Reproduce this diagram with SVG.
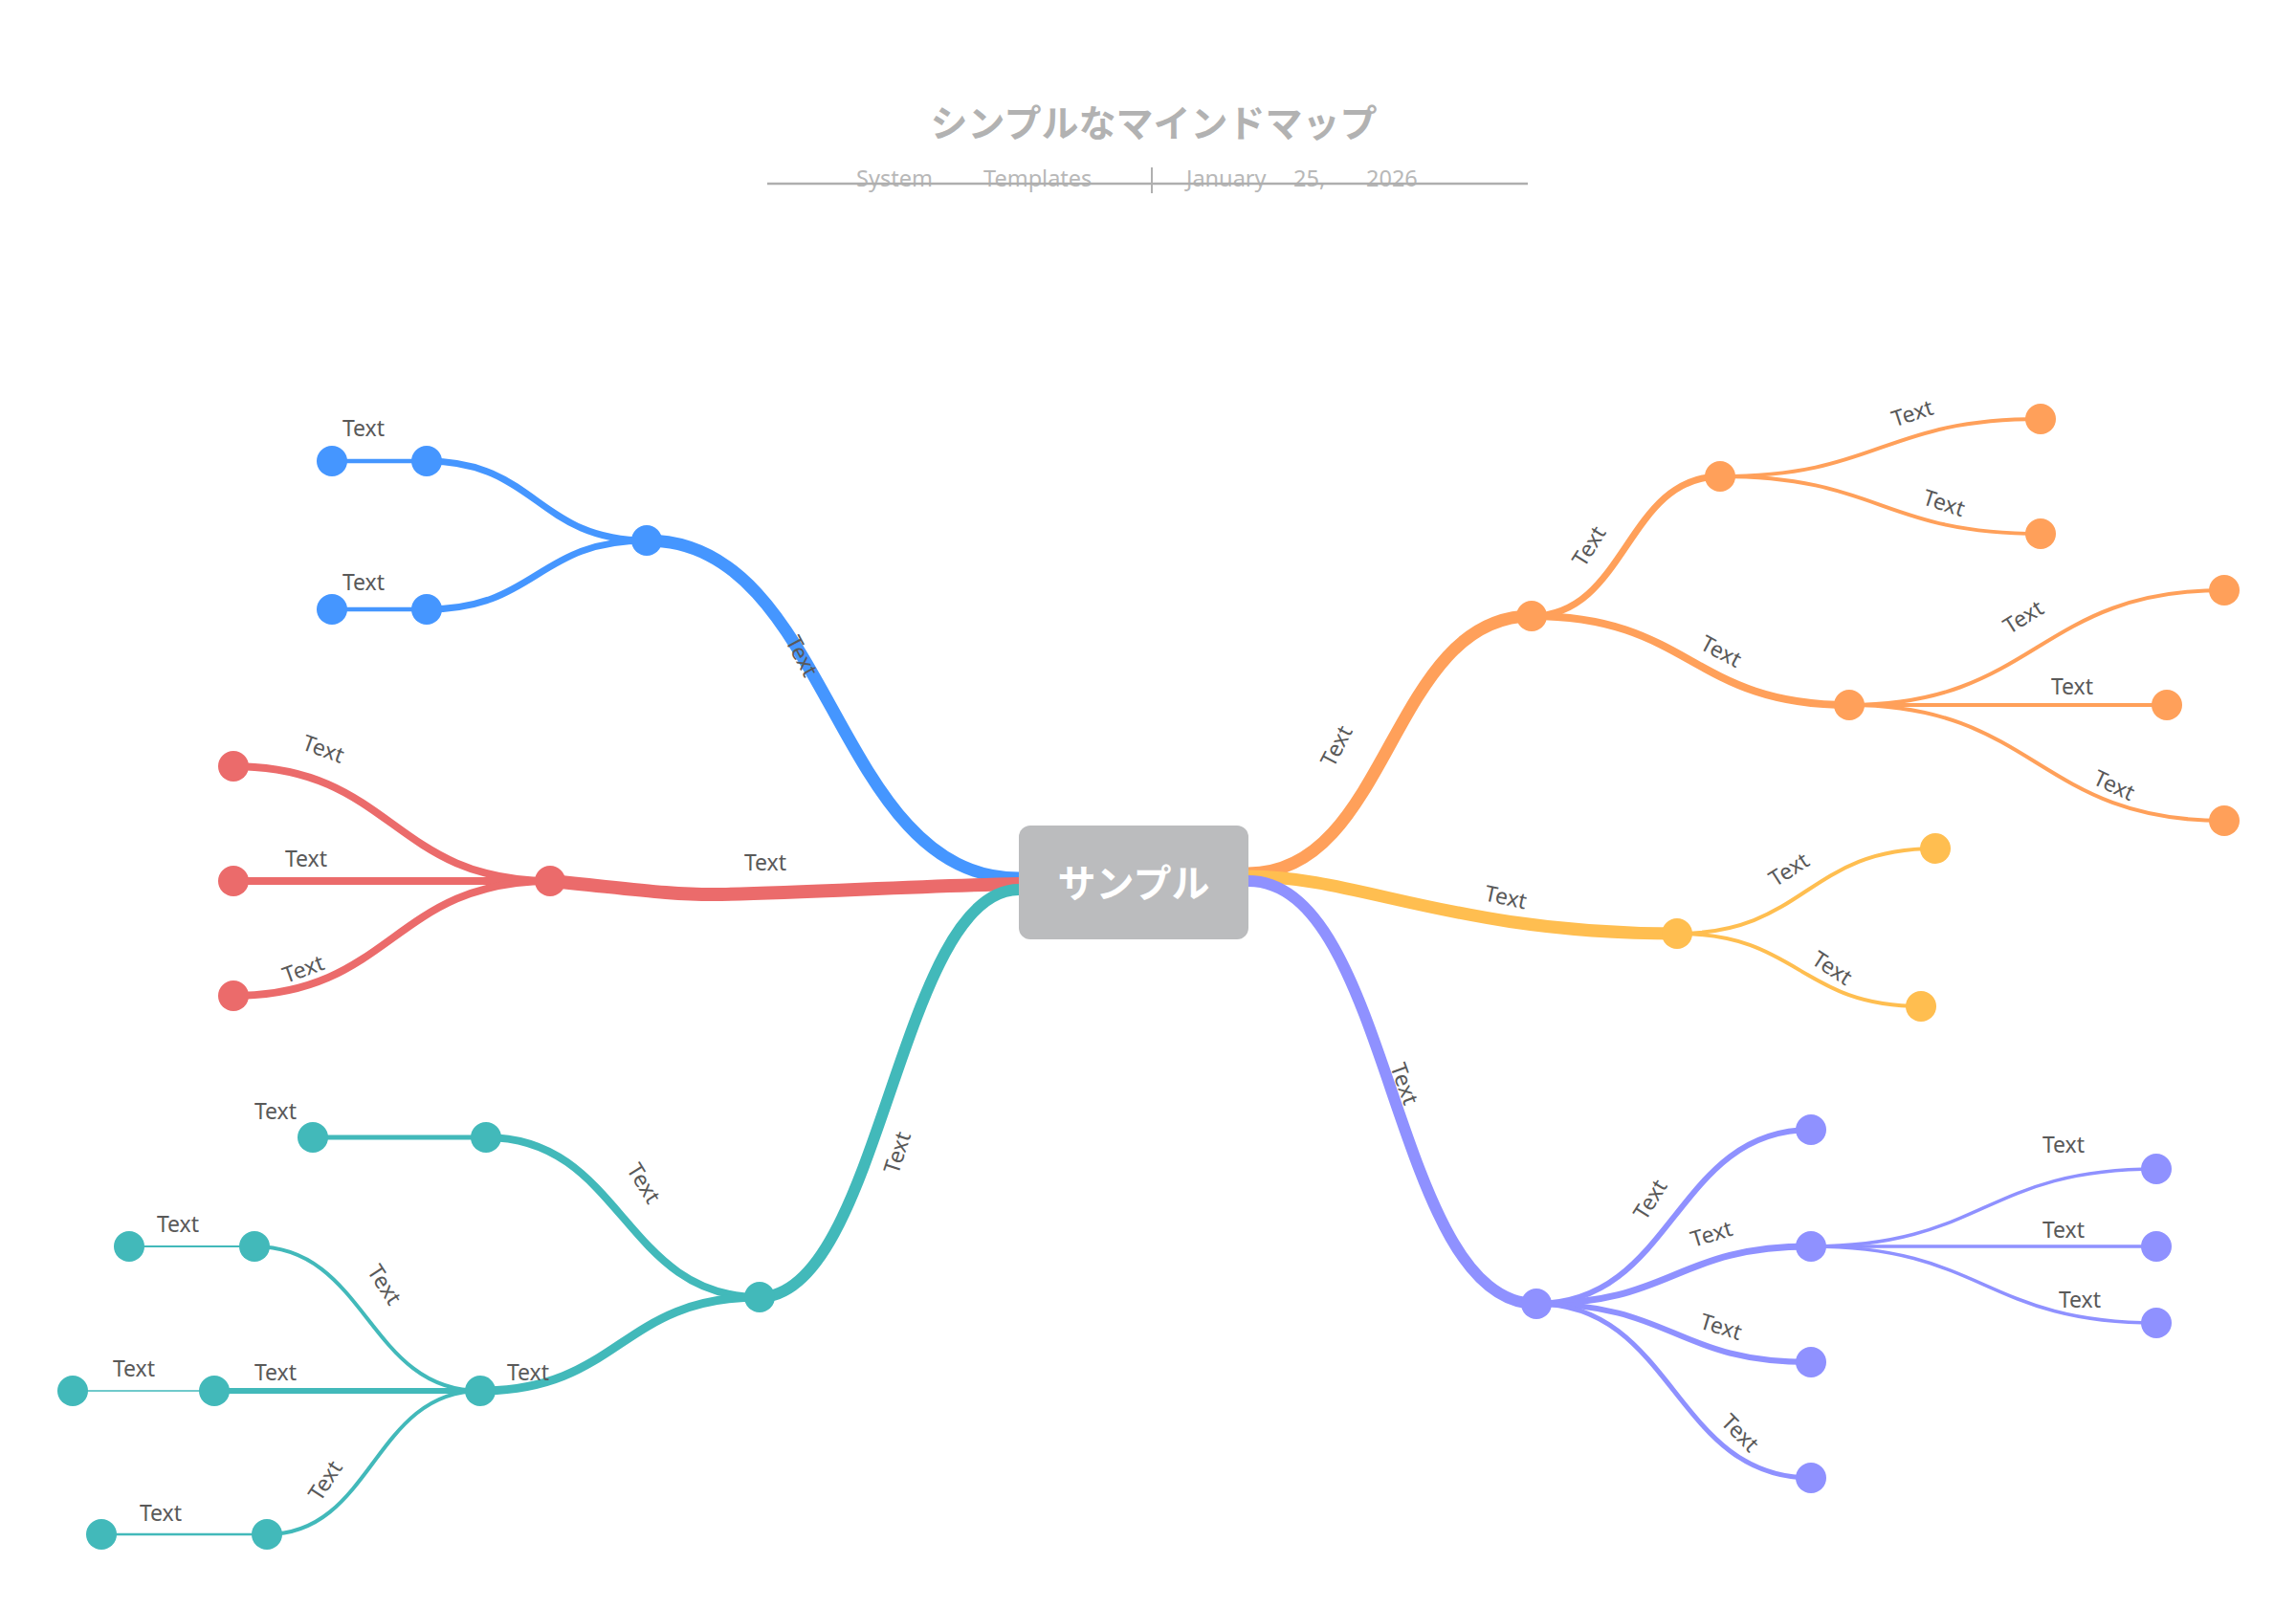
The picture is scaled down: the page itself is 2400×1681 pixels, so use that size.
<svg xmlns="http://www.w3.org/2000/svg" width="2400" height="1681" viewBox="0 0 2400 1681">
<style>
.c{fill:none;stroke-linecap:round}
.bl{stroke:#4596FF}.rd{stroke:#EB6B6B}.tl{stroke:#42B9BA}.or{stroke:#FFA05A}.ye{stroke:#FFBE50}.pu{stroke:#8F91FF}
.nb{fill:#4596FF}.nr{fill:#EB6B6B}.nt{fill:#42B9BA}.no{fill:#FFA05A}.ny{fill:#FFBE50}.np{fill:#8F91FF}
.lb{font-family:"Noto Sans","Open Sans","DejaVu Sans",sans-serif;font-size:23px;fill:#595959;text-anchor:middle}
.sub{font-family:"Noto Sans","Open Sans",sans-serif;font-size:23.5px;fill:#B8B8B8}
</style>
<rect width="2400" height="1681" fill="#FFFFFF"/>
<g id="title">
<text x="1206" y="143" text-anchor="middle" font-family="'Noto Sans CJK JP','Noto Sans CJK SC',sans-serif" font-weight="bold" font-size="39" fill="#B2B2B2">シンプルなマインドマップ</text>
<text class="sub" y="195"><tspan x="895">System</tspan><tspan x="1028">Templates</tspan><tspan x="1240">January</tspan><tspan x="1352">25,</tspan><tspan x="1428">2026</tspan></text>
<line x1="802" y1="192" x2="1597" y2="192" stroke="#AEAEAE" stroke-width="2.5"/>
<line x1="1204" y1="175" x2="1204" y2="202" stroke="#B0B0B0" stroke-width="2"/>
</g>
<g id="connectors">
<path class="c bl" stroke-width="13" d="M1065,918 C870,918 870,565 676,565"/>
<path class="c bl" stroke-width="7" d="M676,565 C561,565 561,482 446,482"/>
<path class="c bl" stroke-width="7" d="M676,565 C561,565 561,637 446,637"/>
<path class="c bl" stroke-width="4.5" d="M446,482 L347,482"/>
<path class="c bl" stroke-width="4.5" d="M446,637 L347,637"/>
<path class="c rd" stroke-width="14" d="M1065,924 C960,926 850,933 754,935 C700,936 650,928 575,921"/>
<path class="c rd" stroke-width="8" d="M575,921 C410,921 410,801 244,801"/>
<path class="c rd" stroke-width="8" d="M575,921 L244,921"/>
<path class="c rd" stroke-width="8" d="M575,921 C410,921 410,1041 244,1041"/>
<path class="c tl" stroke-width="12" d="M1065,930 C940,930 920,1356 794,1356"/>
<path class="c tl" stroke-width="8" d="M794,1356 C651,1356 651,1189 508,1189"/>
<path class="c tl" stroke-width="9" d="M794,1356 C648,1356 648,1454 502,1454"/>
<path class="c tl" stroke-width="5" d="M508,1189 L327,1189"/>
<path class="c tl" stroke-width="4" d="M502,1454 C384,1454 384,1303 266,1303"/>
<path class="c tl" stroke-width="6" d="M502,1454 L224,1454"/>
<path class="c tl" stroke-width="4" d="M502,1454 C390,1454 390,1604 279,1604"/>
<path class="c tl" stroke-width="2" d="M266,1303 L135,1303"/>
<path class="c tl" stroke-width="1.5" d="M224,1454 L76,1454"/>
<path class="c tl" stroke-width="2.5" d="M279,1604 L106,1604"/>
<path class="c or" stroke-width="13" d="M1305,913 C1453,913 1453,644 1601,644"/>
<path class="c or" stroke-width="7" d="M1601,644 C1700,644 1700,498 1798,498"/>
<path class="c or" stroke-width="8" d="M1601,644 C1767,644 1767,737 1933,737"/>
<path class="c or" stroke-width="4" d="M1798,498 C1966,498 1966,438 2133,438"/>
<path class="c or" stroke-width="4" d="M1798,498 C1966,498 1966,558 2133,558"/>
<path class="c or" stroke-width="4" d="M1933,737 C2129,737 2129,617 2325,617"/>
<path class="c or" stroke-width="4" d="M1933,737 L2265,737"/>
<path class="c or" stroke-width="4" d="M1933,737 C2129,737 2129,858 2325,858"/>
<path class="c ye" stroke-width="13" d="M1305,916 C1420,916 1520,976 1753,976"/>
<path class="c ye" stroke-width="4" d="M1753,976 C1888,976 1888,887 2023,887"/>
<path class="c ye" stroke-width="4" d="M1753,976 C1881,976 1881,1052 2008,1052"/>
<path class="c pu" stroke-width="12" d="M1305,921 C1455,921 1455,1363 1606,1363"/>
<path class="c pu" stroke-width="6" d="M1606,1363 C1750,1363 1750,1181 1893,1181"/>
<path class="c pu" stroke-width="7" d="M1606,1363 C1750,1363 1750,1303 1893,1303"/>
<path class="c pu" stroke-width="6" d="M1606,1363 C1750,1363 1750,1424 1893,1424"/>
<path class="c pu" stroke-width="5" d="M1606,1363 C1750,1363 1750,1545 1893,1545"/>
<path class="c pu" stroke-width="3.5" d="M1893,1303 C2074,1303 2074,1222 2254,1222"/>
<path class="c pu" stroke-width="3.5" d="M1893,1303 L2254,1303"/>
<path class="c pu" stroke-width="3.5" d="M1893,1303 C2074,1303 2074,1383 2254,1383"/>
<g id="labels">
<text class="lb" transform="translate(838,686) rotate(62)" y="8">Text</text>
<text class="lb" transform="translate(380,448)" y="8">Text</text>
<text class="lb" transform="translate(380,609)" y="8">Text</text>
<text class="lb" transform="translate(800,902)" y="8">Text</text>
<text class="lb" transform="translate(338,783) rotate(20)" y="8">Text</text>
<text class="lb" transform="translate(320,898)" y="8">Text</text>
<text class="lb" transform="translate(317,1013) rotate(-20)" y="8">Text</text>
<text class="lb" transform="translate(938,1205) rotate(-72)" y="8">Text</text>
<text class="lb" transform="translate(673,1237) rotate(58)" y="8">Text</text>
<text class="lb" transform="translate(288,1162)" y="8">Text</text>
<text class="lb" transform="translate(186,1280)" y="8">Text</text>
<text class="lb" transform="translate(402,1343) rotate(57)" y="8">Text</text>
<text class="lb" transform="translate(140,1431)" y="8">Text</text>
<text class="lb" transform="translate(288,1435)" y="8">Text</text>
<text class="lb" transform="translate(552,1435)" y="8">Text</text>
<text class="lb" transform="translate(340,1548) rotate(-57)" y="8">Text</text>
<text class="lb" transform="translate(168,1582)" y="8">Text</text>
<text class="lb" transform="translate(1397,780) rotate(-63)" y="8">Text</text>
<text class="lb" transform="translate(1661,571) rotate(-58)" y="8">Text</text>
<text class="lb" transform="translate(1799,681) rotate(28)" y="8">Text</text>
<text class="lb" transform="translate(1999,432) rotate(-18)" y="8">Text</text>
<text class="lb" transform="translate(2032,526) rotate(18)" y="8">Text</text>
<text class="lb" transform="translate(2115,645) rotate(-32)" y="8">Text</text>
<text class="lb" transform="translate(2166,718)" y="8">Text</text>
<text class="lb" transform="translate(2210,821) rotate(25)" y="8">Text</text>
<text class="lb" transform="translate(1574,938) rotate(12)" y="8">Text</text>
<text class="lb" transform="translate(1870,909) rotate(-33)" y="8">Text</text>
<text class="lb" transform="translate(1915,1012) rotate(33)" y="8">Text</text>
<text class="lb" transform="translate(1468,1133) rotate(70)" y="8">Text</text>
<text class="lb" transform="translate(1725,1254) rotate(-58)" y="8">Text</text>
<text class="lb" transform="translate(1789,1290) rotate(-17)" y="8">Text</text>
<text class="lb" transform="translate(1799,1387) rotate(17)" y="8">Text</text>
<text class="lb" transform="translate(1819,1498) rotate(45)" y="8">Text</text>
<text class="lb" transform="translate(2157,1197)" y="8">Text</text>
<text class="lb" transform="translate(2157,1286)" y="8">Text</text>
<text class="lb" transform="translate(2174,1359)" y="8">Text</text>
</g>
</g>
<g id="center">
<rect x="1065" y="863" width="240" height="119" rx="12" fill="#BBBCBE"/>
<text x="1185" y="938" text-anchor="middle" font-family="'Noto Sans CJK JP','Noto Sans CJK SC',sans-serif" font-weight="bold" font-size="40" fill="#FFFFFF">サンプル</text>
</g>
<g id="blue-hub"><circle class="nb" cx="676" cy="565" r="16"/></g>
<g id="blue-1"><circle class="nb" cx="446" cy="482" r="16"/></g>
<g id="blue-2"><circle class="nb" cx="446" cy="637" r="16"/></g>
<g id="blue-1a"><circle class="nb" cx="347" cy="482" r="16"/></g>
<g id="blue-2a"><circle class="nb" cx="347" cy="637" r="16"/></g>
<g id="red-hub"><circle class="nr" cx="575" cy="921" r="16"/></g>
<g id="red-1"><circle class="nr" cx="244" cy="801" r="16"/></g>
<g id="red-2"><circle class="nr" cx="244" cy="921" r="16"/></g>
<g id="red-3"><circle class="nr" cx="244" cy="1041" r="16"/></g>
<g id="teal-hub"><circle class="nt" cx="794" cy="1356" r="16"/></g>
<g id="teal-1"><circle class="nt" cx="508" cy="1189" r="16"/></g>
<g id="teal-1a"><circle class="nt" cx="327" cy="1189" r="16"/></g>
<g id="teal-2"><circle class="nt" cx="502" cy="1454" r="16"/></g>
<g id="teal-2a"><circle class="nt" cx="266" cy="1303" r="16"/></g>
<g id="teal-2a1"><circle class="nt" cx="135" cy="1303" r="16"/></g>
<g id="teal-2b"><circle class="nt" cx="224" cy="1454" r="16"/></g>
<g id="teal-2b1"><circle class="nt" cx="76" cy="1454" r="16"/></g>
<g id="teal-2c"><circle class="nt" cx="279" cy="1604" r="16"/></g>
<g id="teal-2c1"><circle class="nt" cx="106" cy="1604" r="16"/></g>
<g id="orange-hub"><circle class="no" cx="1601" cy="644" r="16"/></g>
<g id="orange-1"><circle class="no" cx="1798" cy="498" r="16"/></g>
<g id="orange-2"><circle class="no" cx="1933" cy="737" r="16"/></g>
<g id="orange-1a"><circle class="no" cx="2133" cy="438" r="16"/></g>
<g id="orange-1b"><circle class="no" cx="2133" cy="558" r="16"/></g>
<g id="orange-2a"><circle class="no" cx="2325" cy="617" r="16"/></g>
<g id="orange-2b"><circle class="no" cx="2265" cy="737" r="16"/></g>
<g id="orange-2c"><circle class="no" cx="2325" cy="858" r="16"/></g>
<g id="yellow-hub"><circle class="ny" cx="1753" cy="976" r="16"/></g>
<g id="yellow-1"><circle class="ny" cx="2023" cy="887" r="16"/></g>
<g id="yellow-2"><circle class="ny" cx="2008" cy="1052" r="16"/></g>
<g id="purple-hub"><circle class="np" cx="1606" cy="1363" r="16"/></g>
<g id="purple-1"><circle class="np" cx="1893" cy="1181" r="16"/></g>
<g id="purple-2"><circle class="np" cx="1893" cy="1303" r="16"/></g>
<g id="purple-3"><circle class="np" cx="1893" cy="1424" r="16"/></g>
<g id="purple-4"><circle class="np" cx="1893" cy="1545" r="16"/></g>
<g id="purple-2a"><circle class="np" cx="2254" cy="1222" r="16"/></g>
<g id="purple-2b"><circle class="np" cx="2254" cy="1303" r="16"/></g>
<g id="purple-2c"><circle class="np" cx="2254" cy="1383" r="16"/></g>
</svg>
